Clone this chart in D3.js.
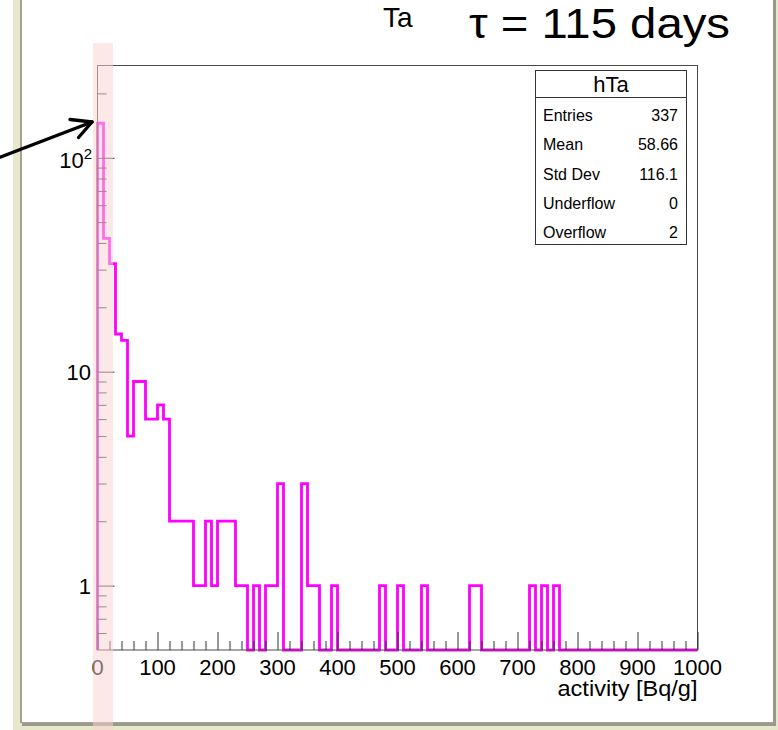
<!DOCTYPE html>
<html>
<head>
<meta charset="utf-8">
<script src="https://cdn.jsdelivr.net/npm/d3@7"></script>
<style>
  html, body { margin: 0; padding: 0; background: #ffffff; }
  svg { display: block; font-family: "Liberation Sans", Arial, Helvetica, sans-serif; }
</style>
</head>
<body>
<svg id="chart" width="778" height="730"></svg>
<script>
// ---------------- data ----------------
const histName = "hTa";
const xMin = 0, xMax = 1000;
const binWidth = 10;
// counts per 10 Bq/g bin, 0..1000
const counts = [
  145, 42, 32, 15, 14, 5, 9, 9, 6, 6,
  7, 6, 2, 2, 2, 2, 1, 1, 2, 1,
  2, 2, 2, 1, 1, 0, 1, 0, 1, 1,
  3, 0, 0, 0, 3, 1, 1, 0, 0, 1,
  0, 0, 0, 0, 0, 0, 0, 1, 0, 0,
  1, 0, 0, 0, 1, 0, 0, 0, 0, 0,
  0, 0, 1, 1, 0, 0, 0, 0, 0, 0,
  0, 0, 1, 0, 1, 0, 1, 0, 0, 0,
  0, 0, 0, 0, 0, 0, 0, 0, 0, 0,
  0, 0, 0, 0, 0, 0, 0, 0, 0, 0
];
const xTickValues = [0, 100, 200, 300, 400, 500, 600, 700, 800, 900, 1000];
const xTickLabels = ["0", "100", "200", "300", "400", "500", "600", "700", "800", "900", "1000"];
const yMajorTicks = [1, 10, 100];
const yDomain = [0.5, 270];
const statLabels = ["Entries", "Mean", "Std Dev", "Underflow", "Overflow"];
const statValues = ["337", "58.66", "116.1", "0", "2"];
const elementLabel = "Ta";
const titleText = "\u03C4 = 115 days";
const xAxisTitle = "activity [Bq/g]";

// ---------------- layout ----------------
const svg = d3.select("#chart");
const frame = { left: 97.5, right: 697.5, top: 65.5, bottom: 650 };

const x = d3.scaleLinear().domain([xMin, xMax]).range([frame.left, frame.right]);
const y = d3.scaleLog().domain(yDomain).range([frame.bottom, frame.top]);

// slide background
svg.append("rect").attr("x", 0).attr("y", 0).attr("width", 778).attr("height", 730).attr("fill", "#ffffff");
svg.append("rect").attr("x", 13).attr("y", -5).attr("width", 770).attr("height", 740).attr("fill", "#e7e7cb");
svg.append("rect").attr("x", 22).attr("y", -5).attr("width", 754).attr("height", 731).attr("fill", "#9a9a8c");
svg.append("rect").attr("x", 20).attr("y", -5).attr("width", 753).attr("height", 728).attr("fill", "#a3a394");
svg.append("rect").attr("x", 22).attr("y", -5).attr("width", 751).attr("height", 727).attr("fill", "#ffffff");

// histogram
const bins = counts.map((c, i) => ({ x0: xMin + i * binWidth, x1: xMin + (i + 1) * binWidth, c }));
const yOf = c => c > 0 ? y(c) : y(yDomain[0]);
let pts = [[x(bins[0].x0), y(yDomain[0])]];
bins.forEach(b => {
  pts.push([x(b.x0), yOf(b.c)]);
  pts.push([x(b.x1), yOf(b.c)]);
});
svg.append("path")
  .attr("d", d3.line()(pts))
  .attr("fill", "none")
  .attr("stroke", "#ff00ff")
  .attr("stroke-width", 2.8)
  .attr("stroke-linejoin", "miter");

// frame
svg.append("rect")
  .attr("x", frame.left).attr("y", frame.top)
  .attr("width", frame.right - frame.left).attr("height", frame.bottom - frame.top)
  .attr("fill", "none").attr("stroke", "#4a4a4a").attr("stroke-width", 1);

// x axis (ROOT style: ticks inside, up)
const xMinor = d3.range(xMin, xMax + 1, 20).filter(v => v % 100 !== 0);
const xAxisMajor = d3.axisTop(x).tickValues(xTickValues).tickSize(18).tickFormat("");
const xAxisMinor = d3.axisTop(x).tickValues(xMinor).tickSize(9).tickFormat("");
[xAxisMajor, xAxisMinor].forEach(ax => {
  const g = svg.append("g").attr("transform", `translate(0,${frame.bottom})`).call(ax);
  g.select(".domain").remove();
  g.selectAll("line").attr("stroke", "#333").attr("stroke-width", 1);
});
svg.append("g").selectAll("text").data(xTickValues).join("text")
  .attr("x", d => x(d)).attr("y", 675)
  .attr("text-anchor", "middle")
  .attr("font-size", 22).attr("fill", "#000")
  .text((d, i) => xTickLabels[i]);
svg.append("text").attr("x", frame.right).attr("y", 696)
  .attr("text-anchor", "end").attr("font-size", 22).attr("fill", "#000")
  .attr("textLength", 140).attr("lengthAdjust", "spacingAndGlyphs")
  .text(xAxisTitle);

// y axis (log)
const yMinor = [];
[0.1, 1, 10, 100].forEach(dec => {
  for (let k = 2; k <= 9; k++) {
    const v = dec * k;
    if (v > yDomain[0] && v < yDomain[1] && v !== 1 && v !== 10 && v !== 100) yMinor.push(v);
  }
});
const yAxisMajor = d3.axisRight(y).tickValues(yMajorTicks).tickSize(17).tickFormat("");
const yAxisMinor = d3.axisRight(y).tickValues(yMinor).tickSize(9).tickFormat("");
[yAxisMajor, yAxisMinor].forEach(ax => {
  const g = svg.append("g").attr("transform", `translate(${frame.left},0)`).call(ax);
  g.select(".domain").remove();
  g.selectAll("line").attr("stroke", "#333").attr("stroke-width", 1);
});
const yLab = svg.append("g");
yLab.append("text").attr("x", 91).attr("y", y(1) + 8).attr("text-anchor", "end")
  .attr("font-size", 22).text("1");
yLab.append("text").attr("x", 91).attr("y", y(10) + 8).attr("text-anchor", "end")
  .attr("font-size", 22).text("10");
const t100 = yLab.append("text").attr("x", 92).attr("y", y(100) + 10).attr("text-anchor", "end").attr("font-size", 22);
t100.append("tspan").text("10");
t100.append("tspan").attr("font-size", 15).attr("dy", -9).text("2");

// stats box
const sb = { x: 535.5, y: 70.5, w: 151, h: 174, sep: 97.5 };
const stats = svg.append("g");
stats.append("rect").attr("x", sb.x).attr("y", sb.y).attr("width", sb.w).attr("height", sb.h)
  .attr("fill", "#fff").attr("stroke", "#333").attr("stroke-width", 1);
stats.append("line").attr("x1", sb.x).attr("x2", sb.x + sb.w).attr("y1", sb.sep).attr("y2", sb.sep)
  .attr("stroke", "#333").attr("stroke-width", 1);
stats.append("text").attr("x", sb.x + sb.w / 2).attr("y", 92).attr("text-anchor", "middle")
  .attr("font-size", 22).text(histName);
const rowY = [121, 150, 179.5, 209, 238];
statLabels.forEach((lab, i) => {
  stats.append("text").attr("x", 543).attr("y", rowY[i]).attr("font-size", 16).text(lab);
  stats.append("text").attr("x", 678).attr("y", rowY[i]).attr("text-anchor", "end").attr("font-size", 16).text(statValues[i]);
});

// titles
svg.append("text").attr("x", 383).attr("y", 27).attr("font-size", 28).text(elementLabel);
svg.append("text").attr("x", 469).attr("y", 37.5).attr("font-size", 42)
  .attr("textLength", 261).attr("lengthAdjust", "spacingAndGlyphs")
  .text(titleText);

// highlight band
svg.append("rect").attr("x", 93).attr("y", 43).attr("width", 20).attr("height", 700)
  .attr("fill", "rgb(251,211,211)").attr("fill-opacity", 0.52);

// arrow
const arrow = svg.append("g").attr("stroke", "#000").attr("stroke-width", 3.4)
  .attr("fill", "none").attr("stroke-linecap", "round").attr("stroke-linejoin", "round");
arrow.append("line").attr("x1", -2).attr("y1", 158).attr("x2", 92).attr("y2", 122);
arrow.append("polyline").attr("points", "70,119.5 92,122 78.5,137.5");
</script>
</body>
</html>
